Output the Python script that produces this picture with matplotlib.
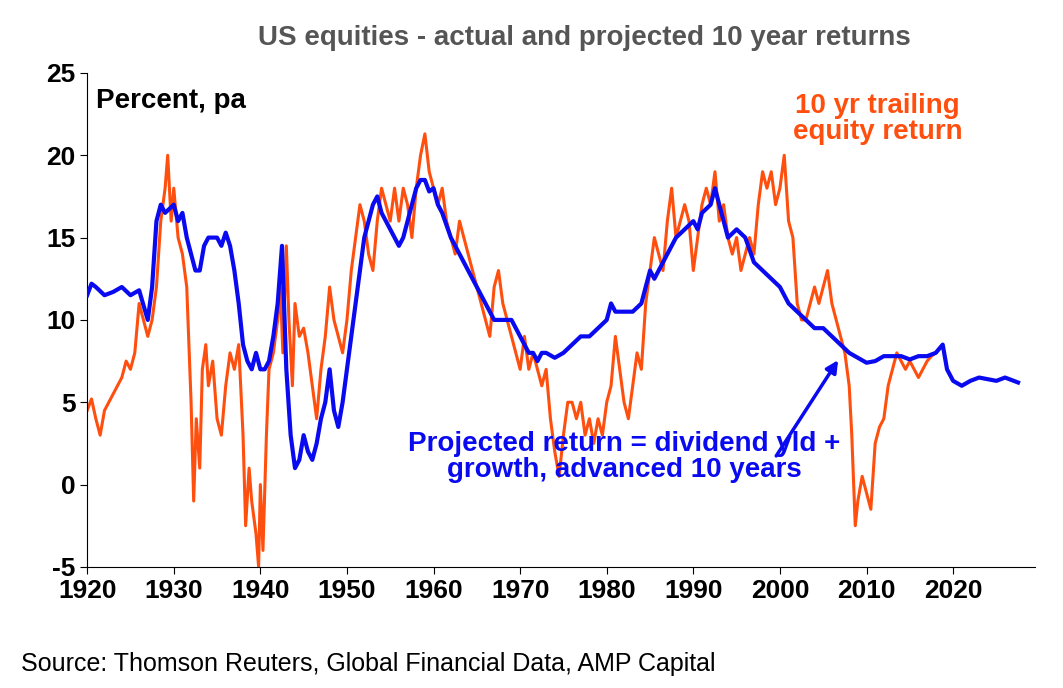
import matplotlib.pyplot as plt
import numpy as np

plt.rcParams['font.family'] = ['Liberation Sans', 'DejaVu Sans']
plt.rcParams['font.weight'] = 'bold'
plt.rcParams['axes.unicode_minus'] = False

# 10 yr trailing equity return
trail_years = [1920, 1920.5, 1921, 1921.5, 1922, 1923, 1924, 1924.5, 1925, 1925.5, 1926, 1926.5, 1927, 1927.5,
               1928, 1928.5, 1929, 1929.3, 1929.7, 1930, 1930.5, 1931, 1931.5, 1932, 1932.3, 1932.6, 1933, 1933.3,
               1933.7, 1934, 1934.5, 1935, 1935.5, 1936, 1936.5, 1937, 1937.5, 1938, 1938.3, 1938.7, 1939, 1939.5,
               1939.8, 1940, 1940.3, 1940.7, 1941, 1941.5, 1942, 1942.3, 1942.6, 1943, 1943.3, 1943.7, 1944, 1944.5,
               1945, 1945.5, 1946, 1946.5, 1947, 1947.5, 1948, 1948.5, 1949, 1949.5, 1950, 1950.5, 1951, 1951.5,
               1952, 1952.5, 1953, 1953.5, 1954, 1954.5, 1955, 1955.5, 1956, 1956.5, 1957, 1957.5, 1958, 1958.5,
               1959, 1959.5, 1960, 1960.5, 1961, 1961.5, 1962, 1962.5, 1963, 1963.5, 1964, 1964.5, 1965, 1965.5,
               1966, 1966.5, 1967, 1967.5, 1968, 1968.5, 1969, 1969.5, 1970, 1970.5, 1971, 1971.5, 1972, 1972.5,
               1973, 1973.5, 1974, 1974.5, 1975, 1975.5, 1976, 1976.5, 1977, 1977.5, 1978, 1978.5, 1979, 1979.5,
               1980, 1980.5, 1981, 1981.5, 1982, 1982.5, 1983, 1983.5, 1984, 1984.5, 1985, 1985.5, 1986, 1986.5,
               1987, 1987.5, 1988, 1988.5, 1989, 1989.5, 1990, 1990.5, 1991, 1991.5, 1992, 1992.5, 1993, 1993.5,
               1994, 1994.5, 1995, 1995.5, 1996, 1996.5, 1997, 1997.5, 1998, 1998.5, 1999, 1999.5, 2000, 2000.5,
               2001, 2001.5, 2002, 2002.5, 2003, 2003.5, 2004, 2004.5, 2005, 2005.5, 2006, 2006.5, 2007, 2007.5,
               2008, 2008.3, 2008.7, 2009, 2009.5, 2010, 2010.5, 2011, 2011.5, 2012, 2012.5, 2013, 2013.5, 2014,
               2014.5, 2015, 2015.5, 2016, 2016.5, 2017, 2017.5, 2018]
trail_vals = [4.5, 5.2, 4, 3, 4.5, 5.5, 6.5, 7.5, 7, 8, 11, 10, 9, 10,
              12, 16, 18, 20, 16, 18, 15, 14, 12, 5, -1, 4, 1, 7,
              8.5, 6, 7.5, 4, 3, 6, 8, 7, 8.5, 3, -2.5, 1, -1, -3,
              -5, 0, -4, 3, 7, 8, 10, 12, 8, 14.5, 10, 6, 11, 9,
              9.5, 8, 6, 4, 7, 9, 12, 10, 9, 8, 10, 13, 15, 17,
              16, 14, 13, 16, 18, 17, 16, 18, 16, 18, 17, 15, 18, 20,
              21.3, 19, 18, 17, 18, 16, 15, 14, 16, 15, 14, 13, 12, 11,
              10, 9, 12, 13, 11, 10, 9, 8, 7, 9, 7, 8, 7, 6,
              7, 4, 2, 0.5, 3, 5, 5, 4, 5, 3, 4, 2.5, 4, 3,
              5, 6, 9, 7, 5, 4, 6, 8, 7, 11, 13, 15, 14, 13,
              16, 18, 15, 16, 17, 16, 13, 15, 17, 18, 17, 19, 16, 17,
              15, 14, 15, 13, 14, 15, 14, 17, 19, 18, 19, 17, 18, 20,
              16, 15, 11, 10, 10, 11, 12, 11, 12, 13, 11, 10, 9, 8,
              6, 3, -2.5, -1, 0.5, -0.5, -1.5, 2.5, 3.5, 4, 6, 7, 8, 7.5,
              7, 7.5, 7, 6.5, 7, 7.5, 7.8, 8]

# Projected return = dividend yield + growth, advanced 10 years
proj_years = [1920, 1920.5, 1921, 1922, 1923, 1924, 1925, 1926, 1927, 1927.5, 1928, 1928.5, 1929, 1930, 1930.5,
              1931, 1931.5, 1932, 1932.5, 1933, 1933.5, 1934, 1935, 1935.5, 1936, 1936.5, 1937, 1937.5, 1938,
              1938.5, 1939, 1939.5, 1940, 1940.5, 1941, 1941.5, 1942, 1942.5, 1942.8, 1943, 1943.5, 1944, 1944.5,
              1945, 1945.5, 1946, 1946.5, 1947, 1947.5, 1948, 1948.5, 1949, 1949.5, 1950, 1950.5, 1951, 1951.5,
              1952, 1952.5, 1953, 1953.5, 1954, 1954.5, 1955, 1955.5, 1956, 1956.5, 1957, 1957.5, 1958, 1958.5,
              1959, 1959.5, 1960, 1960.5, 1961, 1962, 1963, 1964, 1965, 1966, 1967, 1968, 1969, 1970, 1970.5,
              1971, 1971.5, 1972, 1972.5, 1973, 1974, 1975, 1976, 1977, 1978, 1979, 1980, 1980.5, 1981, 1982,
              1983, 1984, 1984.5, 1985, 1985.5, 1986, 1987, 1988, 1989, 1990, 1990.5, 1991, 1992, 1992.5, 1993,
              1993.5, 1994, 1995, 1996, 1997, 1998, 1999, 2000, 2001, 2002, 2003, 2004, 2005, 2006, 2007, 2008,
              2009, 2010, 2011, 2012, 2013, 2014, 2015, 2016, 2017, 2018, 2018.8, 2019.3, 2020, 2021, 2022,
              2023, 2024, 2025, 2026, 2027, 2027.5]
proj_vals = [11.5, 12.2, 12, 11.5, 11.7, 12, 11.5, 11.8, 10, 12, 16, 17, 16.5, 17, 16,
             16.5, 15, 14, 13, 13, 14.5, 15, 15, 14.5, 15.3, 14.5, 13, 11, 8.5,
             7.5, 7, 8, 7, 7, 7.5, 9, 11, 14.5, 10, 7, 3, 1, 1.5,
             3, 2, 1.5, 2.5, 4, 5, 7, 4.5, 3.5, 5, 7, 9, 11, 13,
             15, 16, 17, 17.5, 16.5, 16, 15.5, 15, 14.5, 15, 16, 17, 18, 18.5,
             18.5, 17.8, 18, 17, 16.5, 15, 14, 13, 12, 11, 10, 10, 10, 9, 8.5,
             8, 8, 7.5, 8, 8, 7.7, 8, 8.5, 9, 9, 9.5, 10, 11, 10.5, 10.5,
             10.5, 11, 12, 13, 12.5, 13, 14, 15, 15.5, 16, 15.5, 16.5, 17, 18, 17,
             16, 15, 15.5, 15, 13.5, 13, 12.5, 12, 11, 10.5, 10, 9.5, 9.5, 9, 8.5, 8,
             7.7, 7.4, 7.5, 7.8, 7.8, 7.8, 7.6, 7.8, 7.8, 8, 8.5, 7, 6.3, 6, 6.3,
             6.5, 6.4, 6.3, 6.5, 6.3, 6.2]

fig = plt.figure(figsize=(10.63, 6.88), dpi=100)
ax = fig.add_axes([0.082, 0.176, 0.892, 0.718])

ax.plot(trail_years, trail_vals, color='#FF4F0F', lw=2.2, zorder=2)
ax.plot(proj_years, proj_vals, color='#0A0AF0', lw=3, zorder=3)

ax.set_xlim(1920, 2029.5)
ax.set_ylim(-5, 25)
ax.set_xticks(np.arange(1920, 2021, 10))
ax.set_yticks(np.arange(-5, 26, 5))
ax.tick_params(labelsize=19, length=5, direction='out')
for lab in ax.get_xticklabels() + ax.get_yticklabels():
    lab.set_fontweight('bold')
for s in ['top', 'right']:
    ax.spines[s].set_visible(False)

fig.text(0.55, 0.935, 'US equities - actual and projected 10 year returns', ha='center',
         fontsize=20, color='#555555', fontweight='bold')
ax.text(1921, 23.3, 'Percent, pa', fontsize=20, fontweight='bold', va='center')
ax.text(2011.3, 22.2, '10 yr trailing\nequity return', fontsize=20, fontweight='bold',
        color='#FF4F0F', ha='center', va='center', linespacing=1.0)
ax.text(1982, 1.7, 'Projected return = dividend yld +\ngrowth, advanced 10 years', fontsize=20,
        fontweight='bold', color='#0A0AF0', ha='center', va='center', linespacing=1.0)
ax.annotate('', xy=(2006.9, 7.7), xytext=(1999.4, 1.6),
            arrowprops=dict(arrowstyle='-|>', color='#0A0AF0', lw=2.5, mutation_scale=18))
fig.text(0.02, 0.025, 'Source: Thomson Reuters, Global Financial Data, AMP Capital', fontsize=18,
         fontweight='normal')

fig.savefig('out.png', dpi=100)
